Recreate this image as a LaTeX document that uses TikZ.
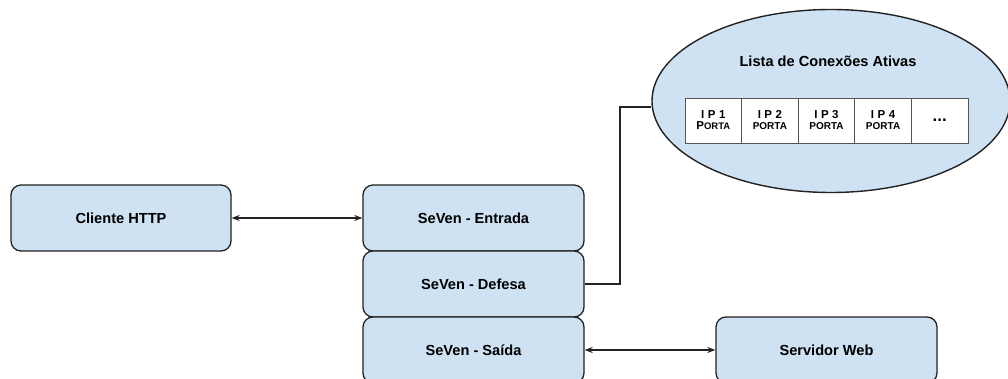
\documentclass[tikz,border=0pt]{standalone}
\usepackage{fontspec}
\setmainfont{Liberation Sans}
\usetikzlibrary{shapes.geometric,arrows.meta}
\definecolor{boxfill}{HTML}{CFE2F3}
\definecolor{edge}{HTML}{222222}
\definecolor{cellline}{HTML}{555555}
\newcommand{\ipgap}{\hspace{3.5pt}}
\begin{document}
\begin{tikzpicture}[x=1pt,y=-1pt,
  block/.style={draw=edge,fill=boxfill,line width=1.3pt,rounded corners=10pt,
    minimum width=221pt,minimum height=66pt,inner sep=0pt,
    font=\fontsize{14.6}{17}\selectfont\bfseries},
  cell/.style={draw=cellline,fill=white,line width=0.9pt,minimum width=56.6pt,
    minimum height=45pt,inner sep=0pt,align=center,
    font=\fontsize{11.5}{13}\selectfont\bfseries},
  link/.style={draw=edge,line width=2pt,{Stealth[length=8pt,width=6pt]}-{Stealth[length=8pt,width=6pt]}},
  wire/.style={draw=edge,line width=1.3pt}]
  \useasboundingbox (0,0) rectangle (1008,379);
  \clip (0,0) rectangle (1008,379);

  % active connection list
  \node[ellipse,draw=edge,fill=boxfill,line width=1.4pt,minimum width=358pt,
    minimum height=183pt,inner sep=0pt] (lista) at (831,101) {};
  \node[font=\fontsize{14.6}{17}\selectfont\bfseries] (titulo) at (828,61) {Lista de Conexões Ativas};
  \node[cell] (c1) at (713.3,120.5) {I\ipgap P\ipgap 1\\[-2pt]P{\fontsize{9.5}{11}\selectfont ORTA}};
  \node[cell] (c2) at (769.9,120.5) {I\ipgap P\ipgap 2\\[-2pt]{\fontsize{10}{11}\selectfont PORTA}};
  \node[cell] (c3) at (826.5,120.5) {I\ipgap P\ipgap 3\\[-2pt]{\fontsize{10}{11}\selectfont PORTA}};
  \node[cell] (c4) at (883.1,120.5) {I\ipgap P\ipgap 4\\[-2pt]{\fontsize{10}{11}\selectfont PORTA}};
  \node[cell,font=\fontsize{17}{18}\selectfont\bfseries] (c5) at (939.7,120.5) {...};

  % main blocks
  \node[block,minimum width=220pt] (cliente) at (121,218) {Cliente HTTP};
  \node[block] (entrada) at (473.5,218) {SeVen - Entrada};
  \node[block] (defesa) at (473.5,284) {SeVen - Defesa};
  \node[block] (saida) at (473.5,350) {SeVen - Saída};
  \node[block] (servidor) at (826.5,350) {Servidor Web};

  % connectors
  \draw[link] (cliente.east) -- (entrada.west);
  \draw[link] (saida.east) -- (servidor.west);
  \coordinate (dobra) at (620,107);
  \draw[wire] (defesa.east) -| (dobra) -- (dobra -| lista.west);
\end{tikzpicture}
\end{document}
